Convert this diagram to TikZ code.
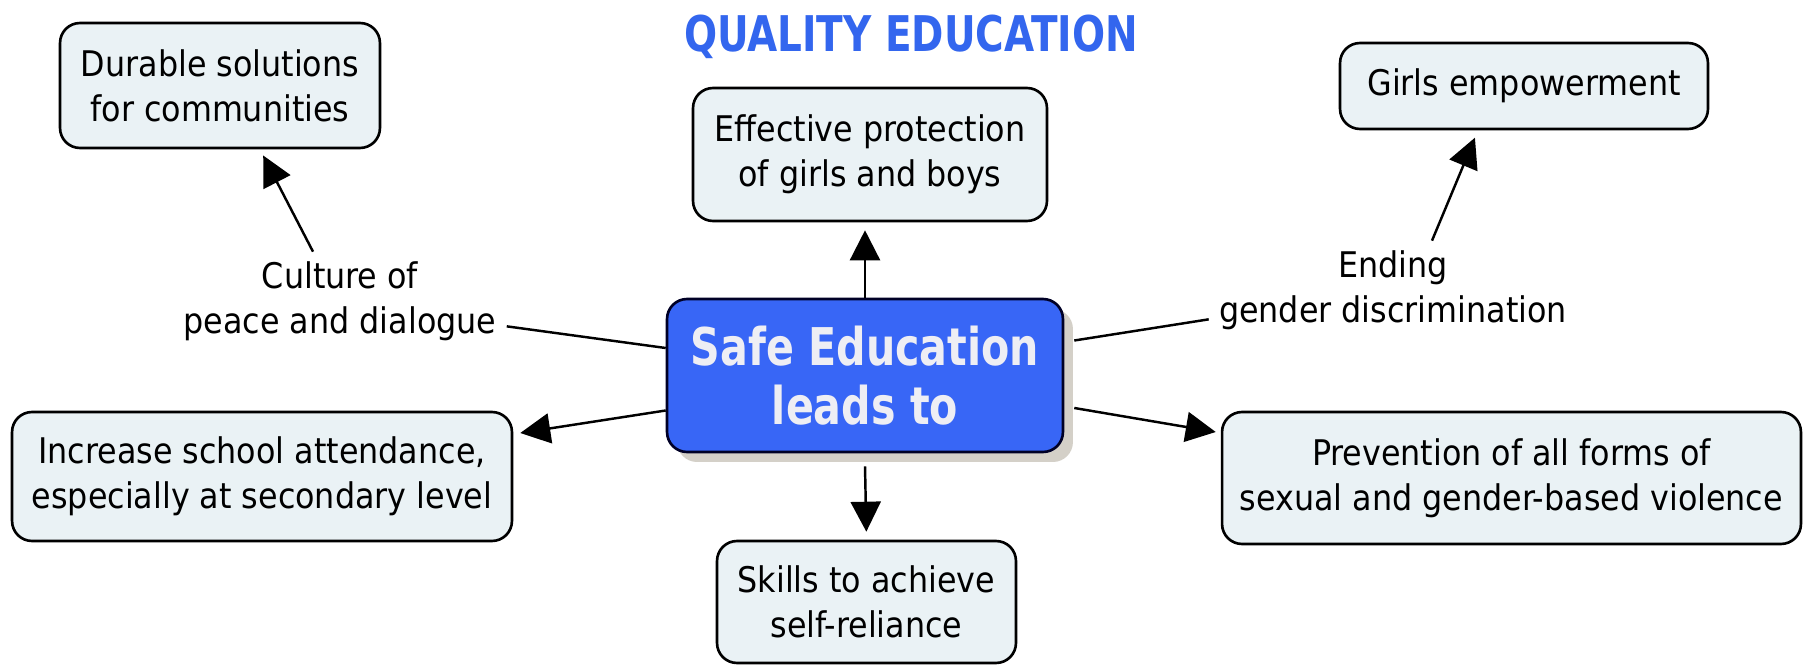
\documentclass[tikz,border=0pt]{standalone}
\usepackage{fontspec}
\setmainfont{DejaVu Sans Condensed}
\newfontfamily\headfont[FakeStretch=0.88]{DejaVu Sans Condensed}
\usetikzlibrary{arrows.meta,shadows}
\definecolor{boxfill}{RGB}{234,242,245}
\definecolor{hubblue}{RGB}{56,102,246}
\definecolor{titleblue}{RGB}{51,102,238}
\definecolor{shadowgray}{RGB}{212,208,200}
\definecolor{hubtext}{RGB}{238,238,244}

\begin{document}
\begin{tikzpicture}[x=0.02cm,y=-0.02cm,
  idea/.style={draw=black,line width=1.5pt,fill=boxfill,rounded corners=0.4cm,
    align=center,inner sep=0pt,font=\fontsize{20.1pt}{25.5pt}\selectfont},
  linklabel/.style={align=center,inner sep=0pt,font=\fontsize{20.1pt}{25.5pt}\selectfont},
  lin/.style={line width=1.4pt},
  arr/.style={line width=1.4pt,-{Triangle[length=0.6cm,width=0.6cm]}}]
\path[fill=white,use as bounding box] (0,0) rectangle (1805,665);

\node (title) at (911,52) [anchor=base,text=titleblue,
  font=\headfont\bfseries\fontsize{28pt}{30pt}\selectfont] {QUALITY EDUCATION};

\node (hub) at (865,375.5) [draw=black!85!blue,line width=1.5pt,fill=hubblue,
  rounded corners=0.4cm,minimum width=7.92cm,minimum height=3.06cm,
  drop shadow={shadow xshift=0.2cm,shadow yshift=-0.2cm,fill=shadowgray,opacity=1},
  text=hubtext,align=center,
  font=\headfont\bfseries\fontsize{29.6pt}{34pt}\selectfont] {Safe Education\\leads to};

\node (durable) at (220,85.5) [idea,minimum width=6.4cm,minimum height=2.5cm] {Durable solutions\\for communities};
\node (effective) at (870,154.5) [idea,minimum width=7.08cm,minimum height=2.66cm] {Effective protection\\of girls and boys};
\node (girls) at (1524,86) [idea,minimum width=7.36cm,minimum height=1.72cm] {Girls empowerment};
\node (increase) at (262,476.5) [idea,minimum width=10cm,minimum height=2.58cm] {Increase school attendance,\\especially at secondary level};
\node (prevention) at (1511.5,478) [idea,minimum width=11.58cm,minimum height=2.64cm] {Prevention of all forms of\\sexual and gender-based violence};
\node (skills) at (866.5,602) [idea,minimum width=5.98cm,minimum height=2.44cm] {Skills to achieve\\self-reliance};

\node (culture) at (340,301.5) [linklabel] {Culture of\\peace and dialogue};
\node (ending) at (1393,290.5) [linklabel] {Ending\\gender discrimination};

\draw[lin] ([shift={(0.2cm,0.3cm)}]culture.south east) -- ([yshift=0.55cm]hub.west);
\draw[arr,shorten >=0.14cm] ([shift={(-0.54cm,0.2cm)}]culture.north) -- ([xshift=0.8cm]durable.south);
\draw[lin] ([shift={(0.2cm,0.7cm)}]hub.east) -- ([shift={(-0.2cm,0.22cm)}]ending.south west);
\draw[arr,shorten >=0.16cm] ([shift={(0.78cm,0.2cm)}]ending.north) -- ([xshift=-0.92cm]girls.south);
\draw[arr,shorten >=0.16cm] (hub.north) -- (hub.north |- effective.south);
\draw[arr,shorten >=0.16cm] ([yshift=-0.26cm]hub.south) -- (skills.north);
\draw[arr] ([yshift=-0.7cm]hub.west) -- ([shift={(0.14cm,0.87cm)}]increase.east);
\draw[arr] ([shift={(0.2cm,-0.65cm)}]hub.east) -- ([shift={(-0.1cm,0.92cm)}]prevention.west);
\end{tikzpicture}
\end{document}
